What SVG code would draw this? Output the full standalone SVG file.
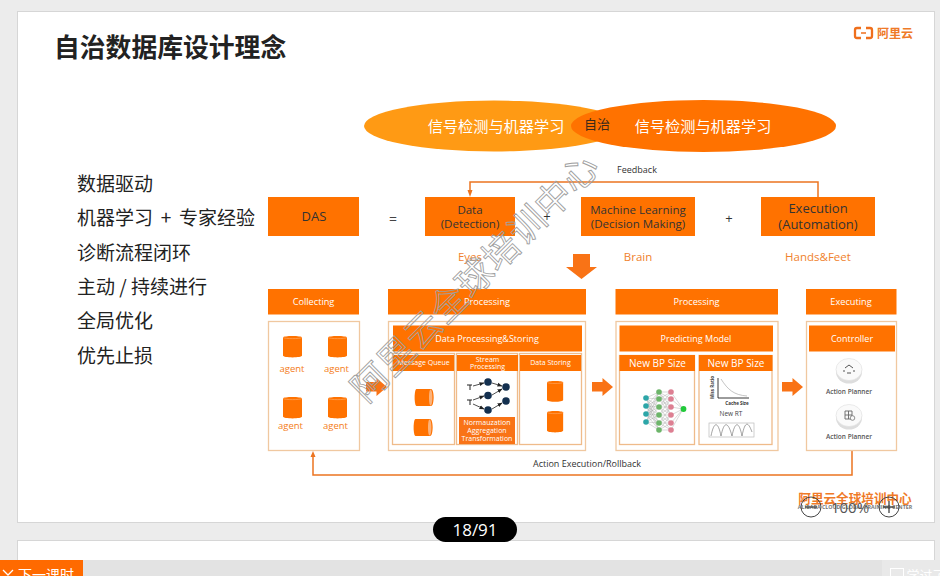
<svg xmlns="http://www.w3.org/2000/svg" xmlns:xlink="http://www.w3.org/1999/xlink" width="940" height="576" viewBox="0 0 940 576">
<style>
text{font-family:"Open Sans","Noto Sans CJK SC",sans-serif;text-anchor:middle;dominant-baseline:central}
.cjk{font-family:"Noto Sans CJK SC","Noto Sans",sans-serif}
.o{fill:#ff7200}
.box{fill:#fff;stroke:#f0c8a0;stroke-width:1.3}
.sub{fill:#fff;stroke:#efbb8a;stroke-width:1.3}
.w{fill:#fff}
.k{fill:#333}
.a{fill:#f47c20;font-size:9.5px}
.lbl{fill:#f0822d;font-size:11.5px}
.ln{fill:none;stroke:#ec7420;stroke-width:1.5}
.net{stroke:#aaa;stroke-width:.45}
.ap{fill:#555;font-size:6.5px;font-weight:600}
.plain{text-anchor:start}
</style>
<defs>
<g id="cyl"><path d="M0 2.5C0 .5 19 .5 19 2.5V20.5C19 23 0 23 0 20.5Z" fill="#ff7200"/><path d="M0 2.5C2 4 17 4 19 2.5" fill="none" stroke="#ffb070" stroke-width=".6"/></g>
<g id="hcyl"><path d="M2.5 0H17C20.5 0 20.5 17 17 17H2.5C0 17 0 0 2.5 0Z" fill="#ff7200"/><path d="M16.5 .5C19 .5 19 16.5 16.5 16.5C14.5 16.5 14.5 .5 16.5 .5Z" fill="#fbb27a"/></g>
<path id="arr" d="M0 4H10.500V0L21 9L10.500 18V13.500H0Z" fill="#f97316"/>
<marker id="dot" markerWidth="5" markerHeight="5" refX="4.500" refY="2.500" orient="auto" markerUnits="userSpaceOnUse"><path d="M0 .5L5 2.500L0 4.500Z" fill="#222"/></marker>
</defs>

<g id="page-chrome">
<rect width="940" height="576" fill="#ececec"/>
<rect x="17.500" y="11.500" width="917" height="511" fill="#fff" stroke="#d6d6d6"/>
<rect x="17.500" y="540.500" width="917" height="30" fill="#fff" stroke="#d6d6d6"/>
<rect y="560" width="940" height="16" fill="#e3e3e3"/>
<rect x="882" y="560" width="58" height="16" fill="#e9e9e9"/>
<rect y="560" width="83" height="16" fill="#ff6a00"/>
<path d="M3 570L8 575L13 570" fill="none" stroke="#fff" stroke-width="1.300"/>
<text class="cjk w" x="46" y="574" font-size="14">下一课时</text>
<rect x="890.500" y="568.500" width="13" height="13" fill="none" stroke="#fff"/>
<text class="cjk w" x="926" y="574" font-size="13">学过了</text>
</g>

<g id="title">
<text class="cjk plain" x="54" y="45" font-size="25.800" font-weight="700" fill="#222">自治数据库设计理念</text>
</g>
<g id="brand">
<path d="M861 28H857Q855 28 855 30V36Q855 38 857 38H861M866 28H870Q872 28 872 30V36Q872 38 870 38H866" fill="none" stroke="#ef6f1c" stroke-width="2.300"/>
<path d="M861 33H866" stroke="#ef6f1c" stroke-width="1.500"/>
<text class="cjk" x="895" y="32" font-size="12" font-weight="700" fill="#ef7a28">阿里云</text>
</g>

<g id="concept-list">
<text class="cjk plain" x="77" y="182.500" fill="#222" font-size="19">数据驱动</text>
<text class="cjk plain" x="77" y="216.500" fill="#222" font-size="19" word-spacing="3.500">机器学习 + 专家经验</text>
<text class="cjk plain" x="77" y="251.500" fill="#222" font-size="19">诊断流程闭环</text>
<text class="cjk plain" x="77" y="285.500" fill="#222" font-size="19">主动 / 持续进行</text>
<text class="cjk plain" x="77" y="319.500" fill="#222" font-size="19">全局优化</text>
<text class="cjk plain" x="77" y="354.500" fill="#222" font-size="19">优先止损</text>
</g>

<g id="ellipse-left">
<ellipse cx="494" cy="126" rx="130" ry="25.500" fill="#ff9a14"/>
<text class="cjk w" x="496" y="124.500" font-size="15.200">信号检测与机器学习</text>
</g>
<g id="ellipse-right">
<ellipse cx="703.500" cy="126" rx="132.500" ry="26" fill="#ff7200"/>
<text class="cjk w" x="703" y="124.500" font-size="15.200">信号检测与机器学习</text>
<text class="cjk" x="597" y="123.500" font-size="13" fill="#3a2a1a">自治</text>
</g>

<g id="connectors">
<path class="ln" d="M818 197V182H470V191"/>
<path d="M467.500 190H472.500L470 197Z" fill="#ec7420"/>
<path class="ln" d="M852 451V475H313V456"/>
<path d="M310.500 457H315.500L313 451Z" fill="#ec7420"/>
<use xlink:href="#arr" href="#arr" x="366" y="378"/>
<use xlink:href="#arr" href="#arr" x="592" y="378"/>
<use xlink:href="#arr" href="#arr" x="782" y="378"/>
<path d="M573 254H590V267H597L581.500 279L566 267H573Z" fill="#f97316"/>
</g>
<text x="637" y="169" font-size="9" fill="#333">Feedback</text>
<text x="587" y="463" font-size="9" fill="#333">Action Execution/Rollback</text>

<g id="das"><rect class="o" x="268" y="197" width="91" height="39"/><text class="k" x="314" y="216" font-size="13">DAS</text></g>
<text x="393" y="218" font-size="14" fill="#444">=</text>
<g id="data"><rect class="o" x="425" y="197" width="90" height="39"/><text class="k" x="470" y="209" font-size="11.500">Data</text><text class="k" x="470" y="223" font-size="11.500">(Detection)</text></g>
<text x="547" y="216" font-size="13" fill="#333">+</text>
<g id="ml"><rect class="o" x="581" y="197" width="114" height="39"/><text class="k" x="638" y="209" font-size="11.500">Machine Learning</text><text class="k" x="638" y="223" font-size="11.500">(Decision Making)</text></g>
<text x="729" y="218" font-size="13" fill="#333">+</text>
<g id="execution"><rect class="o" x="761" y="197" width="114" height="39"/><text class="k" x="818" y="208" font-size="13">Execution</text><text class="k" x="818" y="224" font-size="13">(Automation)</text></g>
<text class="lbl" x="470" y="256">Eyes</text>
<text class="lbl" x="638" y="256">Brain</text>
<text class="lbl" x="818" y="256">Hands&amp;Feet</text>

<g id="collecting">
<rect class="o" x="268" y="289" width="91" height="25.500"/><text class="w" x="313.500" y="301" font-size="9.200">Collecting</text>
<rect class="box" x="268.500" y="321.500" width="91" height="129"/>
<use xlink:href="#cyl" href="#cyl" x="283" y="335"/><use xlink:href="#cyl" href="#cyl" x="328" y="335"/>
<use xlink:href="#cyl" href="#cyl" x="283" y="396"/><use xlink:href="#cyl" href="#cyl" x="328" y="396"/>
<text class="a" x="292" y="368">agent</text><text class="a" x="336.500" y="368">agent</text>
<text class="a" x="290.500" y="425">agent</text><text class="a" x="335.500" y="425">agent</text>
</g>

<g id="processing">
<rect class="o" x="388" y="289" width="198" height="25.500"/><text class="w" x="487" y="301" font-size="9.200">Processing</text>
<rect class="box" x="388.500" y="321.500" width="197" height="129"/>
<rect class="o" x="393" y="325.500" width="189" height="26"/><text class="w" x="487" y="338" font-size="9">Data Processing&amp;Storing</text>
<rect class="sub" x="392.500" y="353.500" width="62" height="91"/>
<rect class="sub" x="456.500" y="353.500" width="61" height="91"/>
<rect class="sub" x="519.500" y="353.500" width="62" height="91"/>
<rect class="o" x="393" y="355" width="61" height="16"/><text class="w" x="423.500" y="362.500" font-size="7">Message Queue</text>
<rect class="o" x="457" y="355" width="61" height="16"/><text class="w" x="487.500" y="359" font-size="7">Stream</text><text class="w" x="487.500" y="366.500" font-size="7">Processing</text>
<rect class="o" x="520" y="355" width="61" height="16"/><text class="w" x="550.500" y="362.500" font-size="7">Data Storing</text>
<use xlink:href="#hcyl" href="#hcyl" x="414" y="389"/><use xlink:href="#hcyl" href="#hcyl" x="413" y="419"/>
<use xlink:href="#cyl" href="#cyl" transform="translate(547 380) scale(.85 .97)"/><use xlink:href="#cyl" href="#cyl" transform="translate(547 410) scale(.85 1)"/>
<g fill="none" stroke="#222" stroke-width=".8" marker-end="url(#dot)">
<path d="M473 386L484 383"/><path d="M473 400L484 396"/><path d="M473 404L484 409"/><path d="M492 383L502 386"/><path d="M492 395L502 389"/><path d="M492 409L502 403"/>
</g>
<g fill="#14304f"><circle cx="488" cy="382" r="3.800"/><circle cx="488" cy="395.500" r="3.800"/><circle cx="488" cy="410" r="3.800"/><circle cx="506" cy="387" r="3.800"/><circle cx="506" cy="401" r="3.800"/></g>
<g stroke="#222" stroke-width="1"><path d="M467 385H472M470 385V390"/><path d="M467 400H472M470 400V405"/></g>
<rect x="459" y="417" width="56" height="27" fill="#f97316"/>
<text class="w" x="487" y="422.500" font-size="7">Normauzation</text><text class="w" x="487" y="430.500" font-size="7">Aggregation</text><text class="w" x="487" y="438.500" font-size="7">Transformation</text>
</g>

<g id="predicting">
<rect class="o" x="615.500" y="289" width="162.500" height="25.500"/><text class="w" x="696.500" y="301" font-size="9.200">Processing</text>
<rect class="box" x="616" y="321.500" width="162" height="129"/>
<rect class="o" x="619.500" y="325.500" width="153.500" height="26"/><text class="w" x="696" y="338" font-size="9">Predicting Model</text>
<rect class="sub" x="619.500" y="355.500" width="75" height="89"/>
<rect class="sub" x="699" y="355.500" width="73" height="89"/>
<rect class="o" x="619.500" y="355" width="75.500" height="16"/><text class="w" x="657.500" y="362.500" font-size="10">New BP Size</text>
<rect class="o" x="699" y="355" width="73.500" height="16"/><text class="w" x="736" y="362.500" font-size="10">New BP Size</text>
<g class="net">
<path d="M646 398L659 392M646 398L659 399M646 398L659 407M646 398L659 415M646 398L659 423M646 398L659 430M646 406L659 392M646 406L659 399M646 406L659 407M646 406L659 415M646 406L659 423M646 406L659 430M646 414L659 392M646 414L659 399M646 414L659 407M646 414L659 415M646 414L659 423M646 414L659 430M646 422L659 392M646 422L659 399M646 422L659 407M646 422L659 415M646 422L659 423M646 422L659 430"/>
<path d="M659 392L671 399M659 392L671 407M659 392L671 415M659 399L671 392M659 399L671 407M659 399L671 415M659 407L671 392M659 407L671 399M659 407L671 415M659 407L671 423M659 415L671 399M659 415L671 407M659 415L671 423M659 415L671 430M659 423L671 407M659 423L671 415M659 423L671 430M659 430L671 415M659 430L671 423M659 392L671 392M659 399L671 399M659 407L671 407M659 415L671 415M659 423L671 423M659 430L671 430"/>
<path d="M671 392L683 409M671 399L683 409M671 407L683 409M671 415L683 409M671 423L683 409M671 430L683 409"/>
</g>
<g fill="#2ca6a8"><circle cx="646" cy="398" r="2.800"/><circle cx="646" cy="406" r="2.800"/><circle cx="646" cy="414" r="2.800"/><circle cx="646" cy="422" r="2.800"/></g>
<g fill="#6db56a"><circle cx="659" cy="392" r="2.800"/><circle cx="659" cy="399" r="2.800"/><circle cx="659" cy="407" r="2.800"/><circle cx="659" cy="415" r="2.800"/><circle cx="659" cy="423" r="2.800"/><circle cx="659" cy="430" r="2.800"/></g>
<g fill="#dd7f92"><circle cx="671" cy="392" r="2.800"/><circle cx="671" cy="399" r="2.800"/><circle cx="671" cy="407" r="2.800"/><circle cx="671" cy="415" r="2.800"/><circle cx="671" cy="423" r="2.800"/><circle cx="671" cy="430" r="2.800"/></g>
<circle cx="683.500" cy="409" r="2.900" fill="#22c93a"/>
<path d="M718 378V398H749" fill="none" stroke="#222" stroke-width=".9"/>
<path d="M721 379C728 390 734 395 747 396" fill="none" stroke="#aaa" stroke-width=".7"/>
<text x="712" y="387.500" font-size="4.500" font-weight="700" fill="#333" transform="rotate(-90 712 387.500)">Miss Ratio</text>
<text x="737" y="402.500" font-size="4.500" font-weight="700" fill="#333">Cache Size</text>
<text x="731" y="413.500" font-size="6.500" fill="#444">New RT</text>
<rect x="709" y="423" width="45" height="14" fill="#fff" stroke="#bbb" stroke-width=".7"/>
<path d="M711 436C714 421 718 421 721 436C724 421 728 421 732 436C735 421 739 421 742 436C745 421 748 421 752 432" fill="none" stroke="#666" stroke-width=".6"/>
</g>

<g id="executing">
<rect class="o" x="806" y="289" width="90.500" height="25.500"/><text class="w" x="851" y="301" font-size="9.200">Executing</text>
<rect class="box" x="806.500" y="321.500" width="90" height="129"/>
<rect class="o" x="809" y="325.500" width="86" height="26"/><text class="w" x="852" y="338" font-size="9">Controller</text>
<ellipse cx="849" cy="372" rx="13" ry="11.500" fill="#ddd"/><ellipse cx="849" cy="369.500" rx="13" ry="11" fill="#fafafa" stroke="#ddd" stroke-width=".6"/>
<path d="M845 368L849 365L853 368M843 371H845M853 371H855M847 373H851" fill="none" stroke="#555" stroke-width="1"/>
<text class="ap" x="849" y="391.500">Action Planner</text>
<ellipse cx="849" cy="418" rx="13" ry="11.500" fill="#ddd"/><ellipse cx="849" cy="415.500" rx="13" ry="11" fill="#fafafa" stroke="#ddd" stroke-width=".6"/>
<path d="M845 411H852V419H845ZM848.500 411V419M845 415H852" fill="none" stroke="#666" stroke-width=".9"/><circle cx="852.500" cy="418" r="2.300" fill="#fafafa" stroke="#666" stroke-width=".7"/>
<text class="ap" x="849" y="436.500">Action Planner</text>
</g>

<g id="watermark">
<text class="cjk" x="473" y="275" font-size="36" letter-spacing="1" fill="none" stroke="#a0a0a0" stroke-width=".9" transform="rotate(-45 473 275)">阿里云全球培训中心</text>
</g>

<g id="footer">
<text class="cjk" x="855" y="497" font-size="12.600" font-weight="700" fill="#ef7a28">阿里云全球培训中心</text>
<text x="855" y="507" font-size="5.300" font-weight="700" fill="#777">ALIBABA CLOUD GLOBAL TRAINING CENTER</text>
<circle cx="811" cy="507" r="10" fill="none" stroke="#444" stroke-width="1"/><path d="M805 507H817" stroke="#444" stroke-width="1.300"/>
<text x="850" y="507" font-size="15" fill="#555">100%</text>
<circle cx="889" cy="507" r="10" fill="none" stroke="#444" stroke-width="1"/><path d="M883 507H895M889 501V513" stroke="#444" stroke-width="1.300"/>
<rect x="433" y="517" width="84" height="25" rx="12.500" fill="#000"/>
<text class="w" x="475" y="529.500" font-size="17">18/91</text>
</g>
</svg>
